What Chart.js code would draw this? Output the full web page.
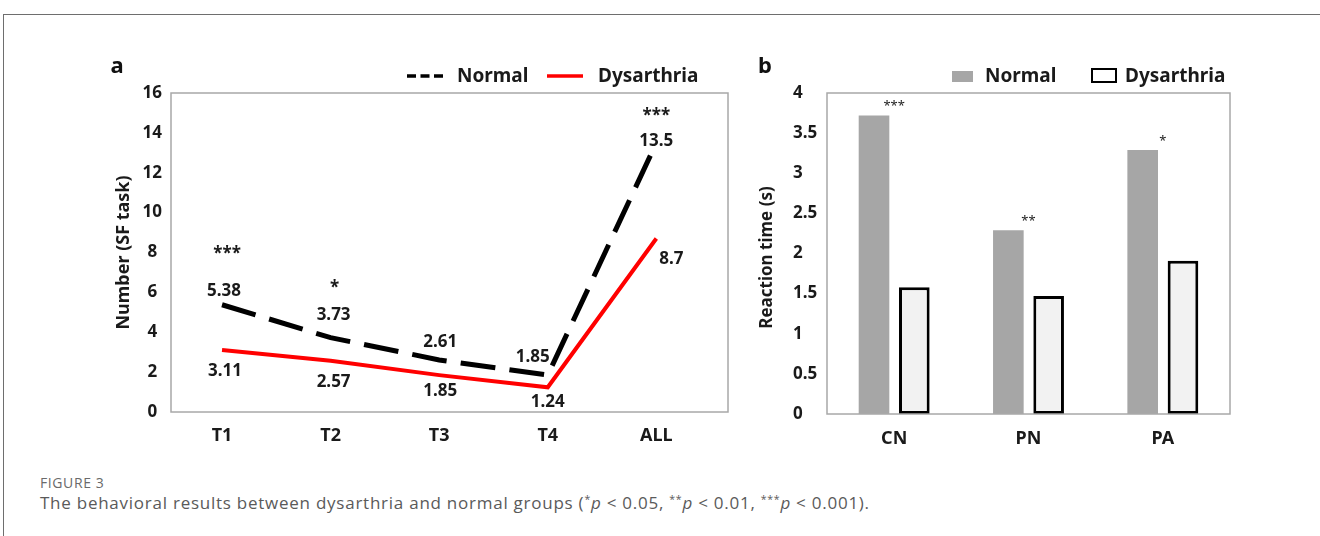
<!DOCTYPE html>
<html>
<head>
<meta charset="utf-8">
<script src="https://cdn.jsdelivr.net/npm/chart.js@4.4.1/dist/chart.umd.min.js"></script>
<style>
  html, body { margin: 0; padding: 0; background: #fff; }
  body { width: 1320px; height: 536px; position: relative; overflow: hidden; font-family: 'Open Sans', sans-serif; }
  .frame { position: absolute; left: 3px; top: 14px; right: -5px; bottom: -5px; border-left: 1px solid #6e6e6e; border-top: 1px solid #6e6e6e; }
  #chartA { position: absolute; left: 0; top: 0; }
  #chartB { position: absolute; left: 745px; top: 0; }
  .figno { position: absolute; left: 40px; top: 473px; font-size: 14px; color: #6a6a6a; letter-spacing: 0.6px; }
  .caption { position: absolute; left: 40px; top: 491px; font-size: 17px; color: #5a5a5a; letter-spacing: 0.75px; white-space: nowrap; }
  .caption sup { font-size: 0.62em; vertical-align: 0.55em; line-height: 0; }
</style>
</head>
<body>
<div class="frame"></div>
<canvas id="chartA" width="745" height="470"></canvas>
<canvas id="chartB" width="575" height="470"></canvas>
<div class="figno">FIGURE 3</div>
<div class="caption">The behavioral results between dysarthria and normal groups (<sup>*</sup><i>p</i> &lt; 0.05, <sup>**</sup><i>p</i> &lt; 0.01, <sup>***</sup><i>p</i> &lt; 0.001).</div>
<script>
// panel a: SF task counts
const timeLabels = ['T1', 'T2', 'T3', 'T4', 'ALL'];
const normalCounts = [5.38, 3.73, 2.61, 1.85, 13.5];
const dysCounts = [3.11, 2.57, 1.85, 1.24, 8.7];
const countStars = ['***', '*', '', '', '***'];
const countTicks = [0, 2, 4, 6, 8, 10, 12, 14, 16];

// panel b: reaction time
const rtLabels = ['CN', 'PN', 'PA'];
const normalRT = [3.72, 2.29, 3.29];
const dysRT = [1.58, 1.47, 1.91];
const rtStars = ['***', '**', '*'];
const rtTicks = [0, 0.5, 1, 1.5, 2, 2.5, 3, 3.5, 4];

Chart.defaults.font.family = "'Noto Sans', sans-serif";
Chart.defaults.color = '#1a1a1a';
Chart.defaults.animation = false;

const BOLD = "bold 17px 'Noto Sans', sans-serif";

// label offsets (px) from each point: [dx, dy]
const normalLabelShift = [[2, -14], [3, -22], [1, -18], [-15, -18], [0, -2]];
const dysLabelShift = [[3, 21], [3, 21], [1, 16], [0, 15], [15, 21]];
const starShift = [[5, -51], [4, -49], [0, 0], [0, 0], [0, -27]];

/**
 * gray box round the plot area
 */
const plotFrame = {
  id: 'plotFrame',
  afterDatasetsDraw(chart) {
    const { ctx, chartArea: { left, top, right, bottom } } = chart;
    ctx.save();
    ctx.strokeStyle = '#a8a8a8';
    ctx.lineWidth = 1.5;
    ctx.strokeRect(left, top, right - left, bottom - top);
    ctx.restore();
  },
};

/**
 * rotated y title + panel letter
 */
const sideText = {
  id: 'sideText',
  afterDraw(chart, args, opts) {
    const { ctx, chartArea: { top, bottom } } = chart;
    ctx.save();
    ctx.fillStyle = '#1a1a1a';
    ctx.font = opts.font;
    ctx.textAlign = 'center';
    ctx.textBaseline = 'middle';
    ctx.translate(opts.x, (top + bottom) / 2 + (opts.dy || 0));
    ctx.rotate(-Math.PI / 2);
    ctx.fillText(opts.text, 0, 0);
    ctx.restore();
    // panel letter
    ctx.save();
    ctx.fillStyle = '#111';
    ctx.font = "bold 22px 'Noto Sans', sans-serif";
    ctx.textAlign = 'center';
    ctx.textBaseline = 'middle';
    ctx.fillText(opts.letter, opts.letterX, 67);
    ctx.restore();
  },
};

/**
 * values and stars on panel a
 */
const lineLabels = {
  id: 'lineLabels',
  afterDraw(chart) {
    const ctx = chart.ctx;
    ctx.save();
    ctx.font = BOLD;
    ctx.fillStyle = '#1a1a1a';
    ctx.textAlign = 'center';
    ctx.textBaseline = 'middle';
    const shifts = [normalLabelShift, dysLabelShift];
    chart.data.datasets.forEach(function (dataset, i) {
      const meta = chart.getDatasetMeta(i);
      meta.data.forEach(function (element, index) {
        const s = shifts[i][index];
        ctx.fillText(String(dataset.data[index].y), element.x + s[0], element.y + s[1]);
        if (i === 0 && countStars[index]) {
          const st = starShift[index];
          ctx.fillText(countStars[index], element.x + st[0], element.y + st[1]);
        }
      });
    });
    // legend
    ctx.lineWidth = 3.5;
    ctx.strokeStyle = '#000';
    ctx.setLineDash([9, 4.5]);
    ctx.beginPath();
    ctx.moveTo(407, 76);
    ctx.lineTo(443, 76);
    ctx.stroke();
    ctx.setLineDash([]);
    ctx.strokeStyle = '#ff0000';
    ctx.beginPath();
    ctx.moveTo(547, 76);
    ctx.lineTo(583, 76);
    ctx.stroke();
    ctx.font = "bold 19px 'Noto Sans', sans-serif";
    ctx.textAlign = 'left';
    ctx.fillText('Normal', 457, 77);
    ctx.fillText('Dysarthria', 598, 77);
    ctx.restore();
  },
};

/**
 * stars and legend on panel b
 */
const barLabels = {
  id: 'barLabels',
  afterDraw(chart) {
    const ctx = chart.ctx;
    const x = chart.scales.x;
    const y = chart.scales.y;
    ctx.save();
    ctx.fillStyle = '#222';
    ctx.font = "13px 'Noto Sans', sans-serif";
    ctx.textAlign = 'center';
    ctx.textBaseline = 'middle';
    rtStars.forEach(function (star, index) {
      ctx.fillText(star, x.getPixelForValue(index), y.getPixelForValue(normalRT[index]) - 9);
    });
    // legend
    ctx.fillStyle = '#a6a6a6';
    ctx.fillRect(207, 71, 21, 11);
    ctx.fillStyle = '#fff';
    ctx.fillRect(346, 68, 26, 15);
    ctx.strokeStyle = '#000';
    ctx.lineWidth = 2;
    ctx.strokeRect(347, 69, 24, 13);
    ctx.fillStyle = '#1a1a1a';
    ctx.font = "bold 19px 'Noto Sans', sans-serif";
    ctx.textAlign = 'left';
    ctx.fillText('Normal', 240, 77);
    ctx.fillText('Dysarthria', 380, 77);
    ctx.restore();
  },
};

/**
 * line chart (panel a)
 */
function countChart() {
  const el = document.getElementById('chartA');
  const config = {
    type: 'line',
    data: {
      datasets: [
        {
          label: 'Normal',
          data: normalCounts.map((v, i) => ({ x: i + 1, y: v })),
          borderColor: '#000',
          borderWidth: 5,
          // dash length chosen so the line ends in a gap below "13.5"
          borderDash: [35, 14.2],
          pointRadius: 0,
          tension: 0,
        },
        {
          label: 'Dysarthria',
          data: dysCounts.map((v, i) => ({ x: i + 1, y: v })),
          borderColor: '#ff0000',
          borderWidth: 4,
          pointRadius: 0,
          tension: 0,
        },
      ],
    },
    options: {
      responsive: false,
      layout: { padding: { left: 100, right: 17, top: 93, bottom: 0 } },
      scales: {
        x: {
          type: 'linear',
          min: 0.53,
          max: 5.66,
          grid: { display: false, drawTicks: false },
          border: { display: false },
          afterBuildTicks: (scale) => {
            scale.ticks = timeLabels.map((_, i) => ({ value: i + 1 }));
          },
          afterFit: (scale) => { scale.height = 58; },
          ticks: {
            padding: 13,
            font: { size: 18, weight: 'bold' },
            color: '#1a1a1a',
            maxRotation: 0,
            callback: (v) => timeLabels[v - 1] || '',
          },
        },
        y: {
          min: 0,
          max: 16,
          grid: { display: false, drawTicks: false },
          border: { display: false },
          afterBuildTicks: (scale) => {
            scale.ticks = countTicks.map((v) => ({ value: v }));
          },
          afterFit: (scale) => { scale.width = 71; },
          ticks: {
            crossAlign: 'center',
            padding: 9,
            font: { size: 17, weight: 'bold' },
            color: '#1a1a1a',
            callback: (v) => String(v),
          },
        },
      },
      plugins: {
        legend: { display: false },
        tooltip: { enabled: false },
        sideText: { text: 'Number (SF task)', x: 124, font: "bold 18px 'Noto Sans', sans-serif", letter: 'a', letterX: 117 },
      },
    },
    plugins: [plotFrame, sideText, lineLabels],
  };
  return new Chart(el, config);
}

/**
 * bar chart (panel b)
 */
function rtChart() {
  const el = document.getElementById('chartB');
  const config = {
    type: 'bar',
    data: {
      labels: rtLabels,
      datasets: [
        {
          label: 'Normal',
          data: normalRT,
          backgroundColor: '#a6a6a6',
          borderWidth: 0,
        },
        {
          label: 'Dysarthria',
          data: dysRT,
          backgroundColor: '#f2f2f2',
          borderColor: '#000',
          borderWidth: 3,
          borderSkipped: false,
        },
      ],
    },
    options: {
      responsive: false,
      categoryPercentage: 0.6,
      barPercentage: 0.76,
      layout: { padding: { left: 48, right: 90, top: 93, bottom: 0 } },
      scales: {
        x: {
          grid: { display: false, drawTicks: false },
          border: { display: false },
          afterFit: (scale) => { scale.height = 56; },
          ticks: {
            padding: 14,
            font: { size: 18, weight: 'bold' },
            color: '#1a1a1a',
          },
        },
        y: {
          min: 0,
          max: 4,
          grid: { display: false, drawTicks: false },
          border: { display: false },
          afterBuildTicks: (scale) => {
            scale.ticks = rtTicks.map((v) => ({ value: v }));
          },
          afterFit: (scale) => { scale.width = 34; },
          ticks: {
            crossAlign: 'far',
            padding: 0,
            font: { size: 17, weight: 'bold' },
            color: '#1a1a1a',
            callback: (v) => String(v),
          },
        },
      },
      plugins: {
        legend: { display: false },
        tooltip: { enabled: false },
        sideText: { text: 'Reaction time (s)', x: 22, dy: 4, font: "bold 17px 'Noto Sans', sans-serif", letter: 'b', letterX: 20 },
      },
    },
    plugins: [plotFrame, sideText, barLabels],
  };
  return new Chart(el, config);
}

countChart();
rtChart();
</script>
</body>
</html>
